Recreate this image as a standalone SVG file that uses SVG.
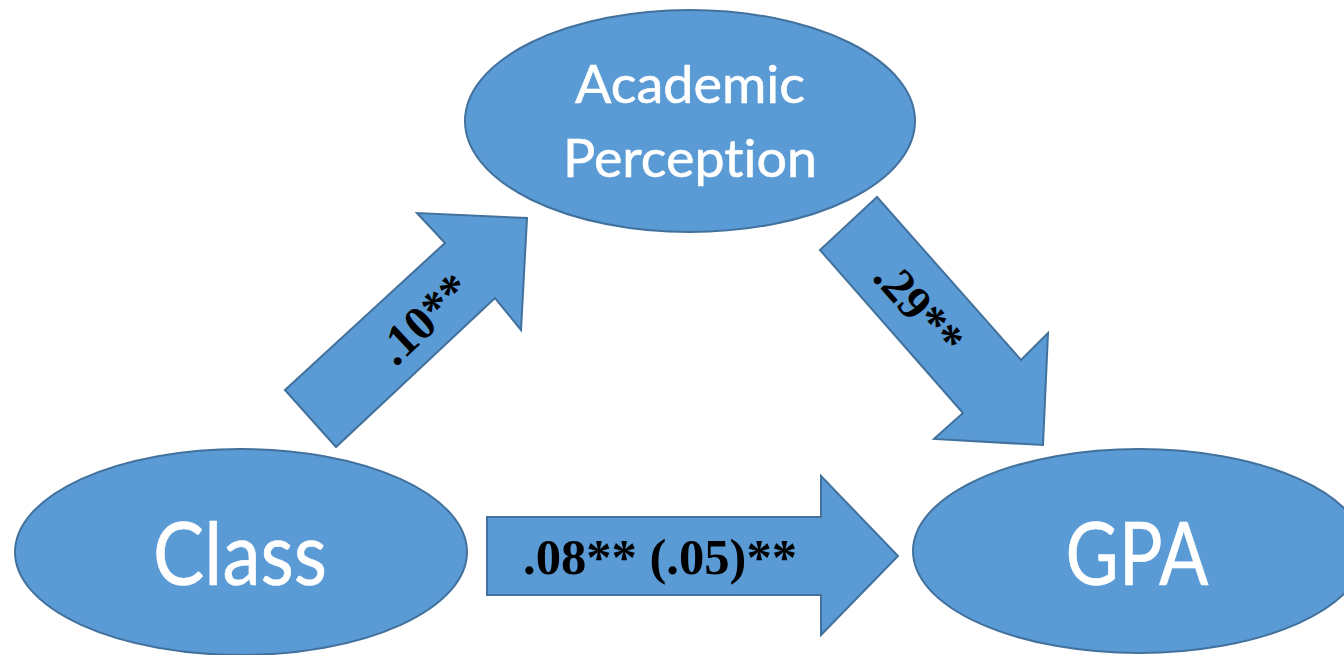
<svg xmlns="http://www.w3.org/2000/svg" width="1344" height="655" viewBox="0 0 1344 655">
<style>
.shape{fill:#5B9BD5;stroke:#41719C;stroke-width:2;stroke-linejoin:miter}
.lbl{font-family:Lato,"Open Sans","Liberation Sans",sans-serif;fill:#ffffff;text-anchor:middle;font-variant-ligatures:none;stroke:#ffffff;stroke-width:0.6}
.coef{font-family:"Liberation Serif","Times New Roman",serif;font-weight:bold;fill:#000000;text-anchor:middle}
</style>
<rect width="1344" height="655" fill="#ffffff"/>
<g id="connectors">
  <g id="arrow-class-ap">
    <polygon class="shape" points="285,390 445,243 417,213 527,218 521,330 495,298 336,447"/>
    <text class="coef" font-size="48" transform="translate(424,319) rotate(-43)" x="0" y="16">.10**</text>
  </g>
  <g id="arrow-ap-gpa">
    <polygon class="shape" points="877,197 820,250 963,413 934,439 1043,445 1048,333 1021,360"/>
    <text class="coef" font-size="48" transform="translate(919,308) rotate(48.7)" x="0" y="16">.29**</text>
  </g>
  <g id="arrow-class-gpa">
    <polygon class="shape" points="487,517 821,517 821,476 898,556 821,635 821,595 487,595"/>
    <text class="coef" font-size="50" x="660" y="574" textLength="274" lengthAdjust="spacingAndGlyphs">.08** (.05)**</text>
  </g>
</g>
<g id="node-academic-perception">
  <ellipse class="shape" cx="690" cy="121" rx="225" ry="111"/>
  <text class="lbl" font-size="53" x="690" y="103" textLength="230" lengthAdjust="spacingAndGlyphs">Academic</text>
  <text class="lbl" font-size="53" x="690" y="177" textLength="254" lengthAdjust="spacingAndGlyphs">Perception</text>
</g>
<g id="node-class">
  <ellipse class="shape" cx="241" cy="552" rx="226" ry="103"/>
  <text class="lbl" font-size="88" x="240" y="585" textLength="174" lengthAdjust="spacingAndGlyphs">Class</text>
</g>
<g id="node-gpa">
  <ellipse class="shape" cx="1139" cy="551" rx="226" ry="102"/>
  <text class="lbl" font-size="88" x="1137" y="585" textLength="143" lengthAdjust="spacingAndGlyphs">GPA</text>
</g>
</svg>
